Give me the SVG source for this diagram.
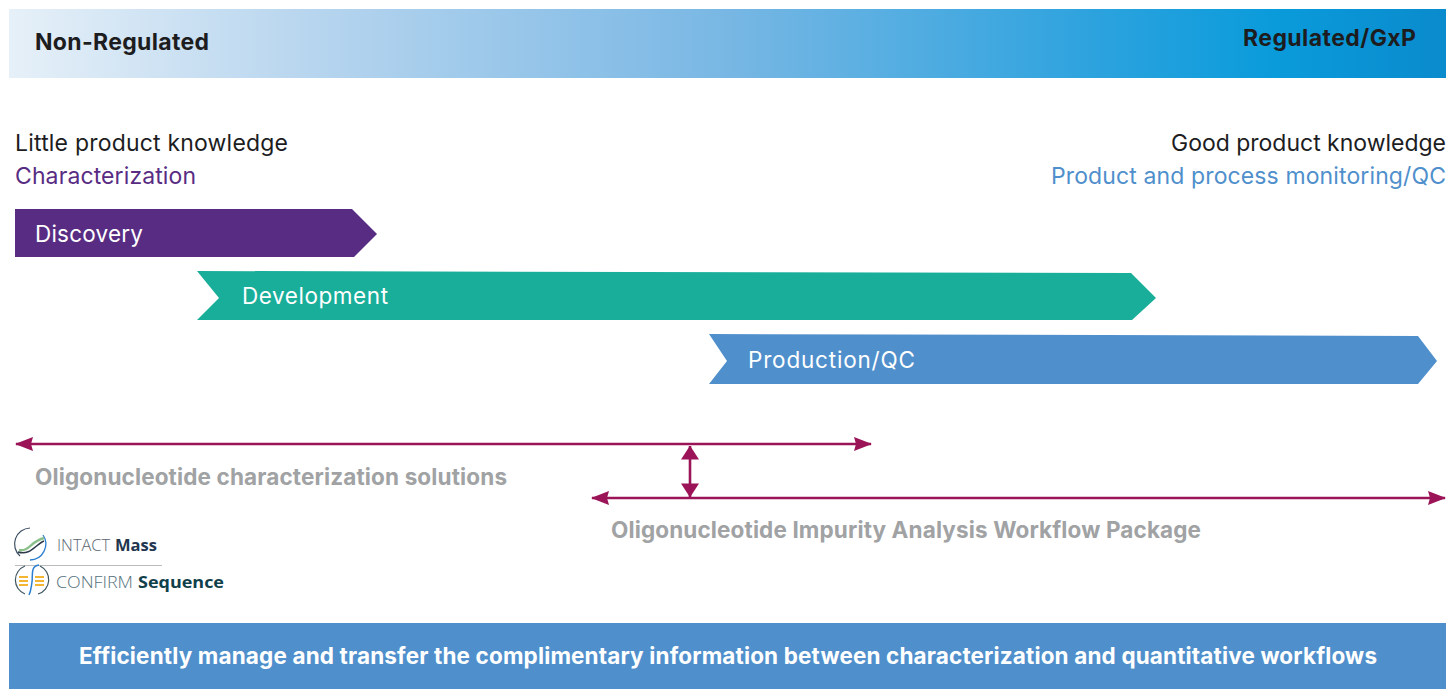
<svg xmlns="http://www.w3.org/2000/svg" width="1446" height="689" viewBox="0 0 1446 689">
<style>
text{font-family:Inter,"Liberation Sans",sans-serif}
.k{font-size:23px;fill:#1d1d1f}
.l{font-size:22.5px;fill:#fff}
.g{font-size:22.5px;font-weight:700;fill:#a0a2a4}
.o{font-size:16.5px}
text.o{font-family:"Open Sans",sans-serif}
.c{stroke:#9b1458;stroke-width:2.6;fill:none}
.h{fill:#9b1458}
</style>
<defs>
<linearGradient id="g1" x1="0" x2="1" y1="0" y2="0">
<stop offset="0" stop-color="#e6f0f8"/><stop offset=".22" stop-color="#b5d4ee"/><stop offset=".5" stop-color="#78b7e4"/><stop offset=".75" stop-color="#2ea3de"/><stop offset=".88" stop-color="#0a9bdb"/><stop offset="1" stop-color="#0a8bcd"/>
</linearGradient>
<marker id="a" viewBox="0 0 18 14" refX="17" refY="7" markerWidth="18" markerHeight="14" markerUnits="userSpaceOnUse" orient="auto-start-reverse"><path d="M0 0L18 7L0 14L2 7Z" class="h"/></marker>
<marker id="b" viewBox="0 0 18 14" refX="17.5" refY="7" markerWidth="14" markerHeight="18" markerUnits="userSpaceOnUse" orient="auto-start-reverse" preserveAspectRatio="none"><path d="M0 0L18 7L0 14Z" class="h"/></marker>
</defs>
<g id="header"><rect x="9" y="9" width="1437" height="69" fill="url(#g1)"/>
<text x="35" y="49.5" font-size="23" font-weight="700" fill="#1d1d1f" textLength="174">Non-Regulated</text>
<text x="1243" y="45.5" font-size="23" font-weight="700" fill="#1d1d1f" textLength="173">Regulated/GxP</text></g>
<g id="left-text"><text class="k" x="15" y="151" textLength="273">Little product knowledge</text>
<text x="15" y="184" font-size="23" fill="#582c83" textLength="181">Characterization</text></g>
<g id="right-text"><text class="k" x="1171" y="151" textLength="275">Good product knowledge</text>
<text x="1051" y="184" font-size="23" fill="#4f8fcc" textLength="395">Product and process monitoring/QC</text></g>
<g id="discovery"><path d="M15 209H352L377 234L354 257H15Z" fill="#582c83"/><text class="l" x="35" y="242" textLength="108">Discovery</text></g>
<g id="development"><path d="M197 271L1131 273L1156 298L1132 320H197L219 298Z" fill="#18ae9a"/><text class="l" x="242" y="304" textLength="146">Development</text></g>
<g id="production"><path d="M709 334L1418 336L1437 361L1418 384H709L727 361Z" fill="#4f8fcc"/><text class="l" x="748" y="368" textLength="167">Production/QC</text></g>
<g id="connectors">
<path class="c" d="M16 444H871" marker-start="url(#a)" marker-end="url(#a)"/>
<path class="c" d="M592 498H1445" marker-start="url(#a)" marker-end="url(#a)"/>
<path class="c" d="M690 446V497" marker-start="url(#b)" marker-end="url(#b)"/>
</g>
<g id="characterization-label"><text class="g" x="35" y="485" textLength="472">Oligonucleotide characterization solutions</text></g>
<g id="impurity-label"><text class="g" x="611" y="538" textLength="590">Oligonucleotide Impurity Analysis Workflow Package</text></g>
<g id="intact-mass">
<path d="M30 528A16 16 0 0 0 20 556" fill="none" stroke="#3d4f63" stroke-width="1.2"/>
<path d="M43 535A16 16 0 0 1 30 560" fill="none" stroke="#2b7fd0" stroke-width="1.3"/>
<path d="M19 550C29 552 31 541 44 538" fill="none" stroke="#8cc08a" stroke-width="2.4"/>
<path d="M18 552C30 556 35 545 44 541" fill="none" stroke="#2d3a4a" stroke-width="1.5"/>
<text class="o" x="57" y="551" fill="#5a6672" textLength="53" lengthAdjust="spacingAndGlyphs" font-weight="300">INTACT</text>
<text class="o" x="115" y="551" font-weight="700" fill="#22364f" textLength="42" lengthAdjust="spacingAndGlyphs">Mass</text>
<path d="M15 565.5H162" stroke="#bbb" stroke-width="1"/>
</g>
<g id="confirm-sequence">
<path d="M25 566A15 15 0 0 0 25 594M40 566A15 15 0 0 1 38 594" fill="none" stroke="#3d5560" stroke-width="1.2"/>
<path d="M39 565C30 566 33 576 32 582C31 588 31 591 29 595" fill="none" stroke="#2b7fd0" stroke-width="1.5"/>
<path d="M19 577H28M19 581H28M19 585H28M35 577H44M35 581H44M35 585H44" stroke="#f2b632" stroke-width="2"/>
<text class="o" x="56" y="588" fill="#54707a" textLength="77" lengthAdjust="spacingAndGlyphs" font-weight="300">CONFIRM</text>
<text class="o" x="138" y="588" font-weight="700" fill="#10404a" textLength="86" lengthAdjust="spacingAndGlyphs">Sequence</text>
</g>
<g id="footer"><rect x="9" y="623" width="1437" height="66" fill="#4f8fcc"/>
<text x="79" y="664" font-size="22.5" font-weight="700" fill="#fff" textLength="1298">Efficiently manage and transfer the complimentary information between characterization and quantitative workflows</text></g>
</svg>
